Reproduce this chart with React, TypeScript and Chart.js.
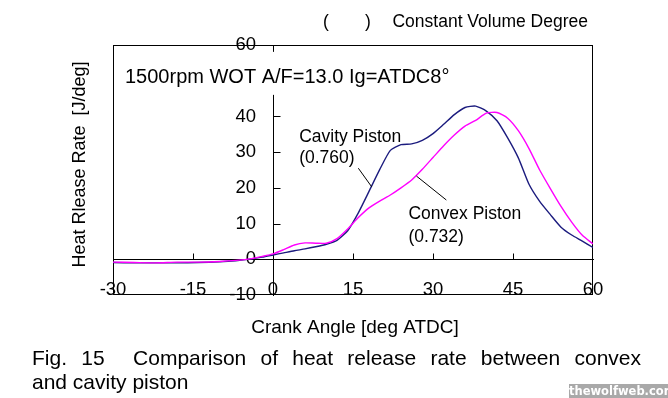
import React, { useEffect, useRef } from 'react';
import { Chart, registerables } from 'chart.js';

Chart.register(...registerables);

// ---- data ----
const crankAngle = [
  -30, -26, -22, -18, -14, -10, -7, -4, -2, 0, 2, 4, 6, 8, 10, 12, 14, 16, 18, 20,
  22, 24, 26, 28, 30, 32, 34, 36, 38, 40, 42, 44, 46, 48, 50, 52, 54, 56, 58, 60,
];
const cavityRate = [
  -0.9, -1.0, -1.0, -1.0, -0.9, -0.7, -0.4, 0.1, 0.6, 1.2, 1.8, 2.4, 2.9, 3.5, 4.2, 5.3, 8.0, 13.0, 19.0, 25.1,
  30.5, 32.1, 32.3, 33.3, 35.2, 37.8, 40.5, 42.5, 42.9, 41.5, 38.8, 34.0, 28.4, 21.0, 16.2, 12.5, 9.0, 6.8, 5.1, 3.3,
];
const convexRate = [
  -0.8, -0.9, -1.0, -0.8, -0.8, -0.6, -0.3, 0.2, 0.8, 1.5, 2.7, 4.0, 4.6, 4.5, 4.5, 5.8, 8.5, 11.7, 14.4, 16.3,
  18.0, 20.0, 22.2, 25.2, 28.5, 31.8, 34.8, 37.3, 38.9, 40.9, 41.1, 39.5, 36.0, 31.0, 25.0, 19.8, 14.8, 10.4, 6.7, 4.3,
];
const xRange = [-30, 60];
const yRange = [-10, 60];
const xStep = 15;
const yStep = 10;

const seriesNames = ['Cavity Piston', 'Convex Piston'];
const seriesValues = ['(0.760)', '(0.732)'];
const conditionText = '1500rpm WOT A/F=13.0 Ig=ATDC8\u00B0';
const xTitle = 'Crank Angle [deg ATDC]';
const yTitle = 'Heat Rlease Rate  [J/deg]';
const topNote = 'Constant Volume Degree';
const caption1 = 'Fig. 15\u00A0 Comparison of heat release rate between convex';
const caption2 = 'and cavity piston';

// annotation anchor points in data coordinates
const cavityLabelAt = { x: 4.9, y: 32.9 };
const cavityValueAt = { x: 4.9, y: 27.0 };
const cavityLeader = [{ x: 16.0, y: 25.5 }, { x: 18.5, y: 20.3 }];
const convexLabelAt = { x: 25.4, y: 11.2 };
const convexValueAt = { x: 25.4, y: 4.9 };
const convexLeader = [{ x: 26.9, y: 23.3 }, { x: 32.5, y: 16.6 }];
const conditionAt = { x: -27.75, y: 49.4 };

const FONT = "'Liberation Sans', Arial, Helvetica, sans-serif";
const CAVITY_COLOR = '#1b1b7e';
const CONVEX_COLOR = '#ff00ff';
const Y_LABEL_GAP = 17;

const framePlugin = {
  id: 'frame',
  beforeDraw(chart: any) {
    // y labels sit a little left of the x = 0 axis line
    const ys = chart.scales.y;
    const xs = chart.scales.x;
    const x0 = xs.getPixelForValue(0);
    const items = ys.getLabelItems(chart.chartArea);
    items.forEach((it: any) => {
      if (it && it.options && it.options.translation) {
        it.options.translation[0] = x0 - Y_LABEL_GAP;
        it.options.textAlign = 'right';
      }
    });
  },
  beforeDatasetsDraw(chart: any) {
    const { ctx, chartArea: a, scales } = chart;
    const xs = scales.x;
    const ys = scales.y;
    ctx.save();
    ctx.strokeStyle = '#000';
    ctx.lineWidth = 1;
    ctx.strokeRect(Math.round(a.left) + 0.5, Math.round(a.top) + 0.5, Math.round(a.width) - 1, Math.round(a.height) - 1);
    const x0 = Math.round(xs.getPixelForValue(0)) + 0.5;
    const y0 = Math.round(ys.getPixelForValue(0)) + 0.5;
    ctx.beginPath();
    xs.ticks.forEach((t: any) => {
      if (t.value > xRange[0] && t.value < xRange[1] && t.value !== 0) {
        const px = Math.round(xs.getPixelForValue(t.value)) + 0.5;
        ctx.moveTo(px, y0);
        ctx.lineTo(px, y0 - 6);
      }
    });
    ys.ticks.forEach((t: any) => {
      if (t.value > yRange[0] && t.value < yRange[1] && t.value !== 0) {
        const py = Math.round(ys.getPixelForValue(t.value)) + 0.5;
        ctx.moveTo(x0, py);
        ctx.lineTo(x0 + 7, py);
      }
    });
    ctx.stroke();
    ctx.restore();
  },
  afterDraw(chart: any) {
    const { ctx, chartArea: a, scales } = chart;
    const xs = scales.x;
    const ys = scales.y;
    const px = (v: number) => xs.getPixelForValue(v);
    const py = (v: number) => ys.getPixelForValue(v);
    ctx.save();
    ctx.fillStyle = '#000';
    ctx.textBaseline = 'alphabetic';
    ctx.textAlign = 'left';

    // condition box (white background hides the axis behind it)
    ctx.font = `20px ${FONT}`;
    const cx = px(conditionAt.x);
    const cy = py(conditionAt.y);
    const w = ctx.measureText(conditionText).width;
    ctx.fillStyle = '#fff';
    ctx.fillRect(cx - 11, cy - 31, w + 21, 43);
    ctx.fillStyle = '#000';
    ctx.fillText(conditionText, cx, cy);

    // series labels
    ctx.font = `17.5px ${FONT}`;
    ctx.fillText(seriesNames[0], px(cavityLabelAt.x), py(cavityLabelAt.y));
    ctx.fillText(seriesValues[0], px(cavityValueAt.x), py(cavityValueAt.y));
    ctx.fillText(seriesNames[1], px(convexLabelAt.x), py(convexLabelAt.y));
    ctx.fillText(seriesValues[1], px(convexValueAt.x), py(convexValueAt.y));

    ctx.strokeStyle = '#000';
    ctx.lineWidth = 1;
    ctx.beginPath();
    ctx.moveTo(px(cavityLeader[0].x), py(cavityLeader[0].y));
    ctx.lineTo(px(cavityLeader[1].x), py(cavityLeader[1].y));
    ctx.moveTo(px(convexLeader[0].x), py(convexLeader[0].y));
    ctx.lineTo(px(convexLeader[1].x), py(convexLeader[1].y));
    ctx.stroke();

    // top note
    ctx.font = `17.5px ${FONT}`;
    ctx.textAlign = 'right';
    ctx.fillText(topNote, a.right - 5, a.top - 18);
    ctx.textAlign = 'left';
    ctx.fillText('(', a.left + 210, a.top - 18);
    ctx.fillText(')', a.left + 252, a.top - 18);

    // axis titles
    ctx.font = `19px ${FONT}`;
    ctx.textAlign = 'center';
    ctx.fillText(xTitle, (a.left + a.right) / 2 + 2, a.bottom + 38);
    ctx.translate(a.left - 33, a.top + 119.5);
    ctx.rotate(-Math.PI / 2);
    ctx.font = `18px ${FONT}`;
    ctx.textBaseline = 'middle';
    ctx.fillText(yTitle, 0, 0);
    ctx.restore();
  },
};

export default function App() {
  const canvasRef = useRef<HTMLCanvasElement | null>(null);

  useEffect(() => {
    const canvas = canvasRef.current;
    if (!canvas) return;
    const tickFont = { family: FONT, size: 18.5 };
    const chart = new Chart(canvas, {
      type: 'line',
      data: {
        datasets: [
          {
            label: seriesNames[1],
            data: crankAngle.map((a, i) => ({ x: a, y: convexRate[i] })),
            borderColor: CONVEX_COLOR,
            borderWidth: 1.4,
            pointRadius: 0,
            tension: 0.2,
            fill: false,
          },
          {
            label: seriesNames[0],
            data: crankAngle.map((a, i) => ({ x: a, y: cavityRate[i] })),
            borderColor: CAVITY_COLOR,
            borderWidth: 1.4,
            pointRadius: 0,
            tension: 0.2,
            fill: false,
          },
        ],
      },
      options: {
        responsive: false,
        maintainAspectRatio: false,
        devicePixelRatio: 1,
        animation: false,
        events: [],
        layout: { padding: { left: 113, top: 45, right: 75, bottom: 103 } },
        plugins: { legend: { display: false }, tooltip: { enabled: false } },
        scales: {
          x: {
            type: 'linear',
            min: xRange[0],
            max: xRange[1],
            position: { y: 0 },
            ticks: { stepSize: xStep, color: '#000', font: tickFont, padding: 20, maxRotation: 0, autoSkip: false },
            grid: { display: true, drawOnChartArea: false, drawTicks: false },
            border: { display: true, color: '#000', width: 1 },
          },
          y: {
            type: 'linear',
            min: yRange[0],
            max: yRange[1],
            position: { x: 0 },
            ticks: { stepSize: yStep, color: '#000', font: tickFont, padding: 0, autoSkip: false },
            grid: { display: true, drawOnChartArea: false, drawTicks: false },
            border: { display: true, color: '#000', width: 1 },
          },
        },
      } as any,
      plugins: [framePlugin],
    });
    return () => chart.destroy();
  }, []);

  return (
    <div style={{ position: 'fixed', left: 0, top: 0, width: 668, height: 398, background: '#fff', overflow: 'hidden' }}>
      <canvas ref={canvasRef} width={668} height={398} style={{ display: 'block', width: 668, height: 398 }} />
      <div
        style={{
          position: 'absolute',
          left: 32,
          top: 346,
          width: 609,
          fontFamily: FONT,
          fontSize: 21,
          lineHeight: '23.5px',
          color: '#000',
        }}
      >
        <div style={{ textAlign: 'justify', textAlignLast: 'justify' }}>{caption1}</div>
        <div>{caption2}</div>
      </div>
      <div
        style={{
          position: 'absolute',
          left: 569,
          top: 384,
          width: 99,
          height: 14,
          background: '#a9a9a9',
          color: '#fff',
          fontFamily: "'DejaVu Sans', sans-serif",
          fontWeight: 'bold',
          fontSize: 11.5,
          lineHeight: '14px',
          textAlign: 'center',
          whiteSpace: 'nowrap',
        }}
      >
        thewolfweb.com
      </div>
    </div>
  );
}
